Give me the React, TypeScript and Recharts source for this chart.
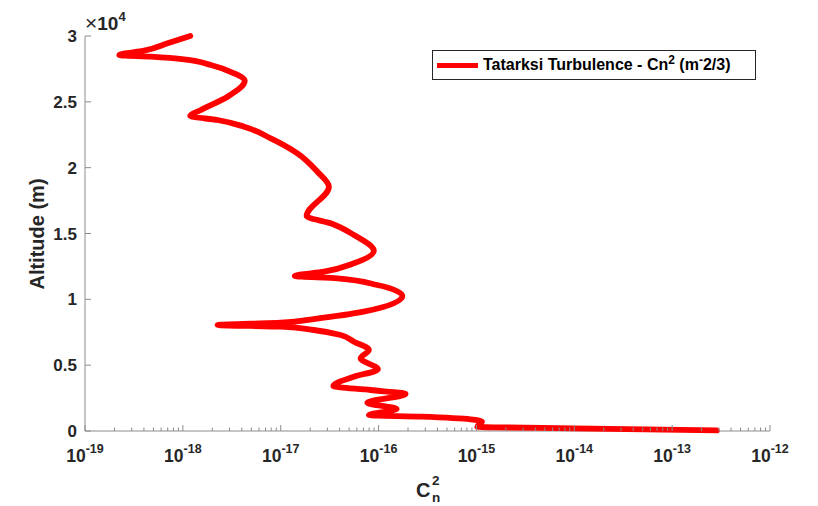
import React from "react";
import { ScatterChart, Scatter, XAxis, YAxis, Legend } from "recharts";

// Altitude (m) read from the profile, top to bottom
const altitudes = [
  30000, 29445, 28883, 28556, 28427, 28230, 27797, 27167, 26604, 25389,
  24379, 23923, 23620, 23111, 22230, 21091, 19693, 18554, 16329, 15774,
  14886, 13671, 12736, 12098, 11772, 11597, 11088, 10253, 9061, 8506,
  8225, 8050, 7921, 7671, 7291, 6782, 6152, 5521, 4686, 4124,
  3418, 3114, 2810, 2149, 1671, 1215, 1086, 889, 706, 327,
  281, 205, 50,
];

// Cn^2 values (m^-2/3) at those altitudes
const cn2Values = [
  1.19e-18, 6.98e-19, 4.03e-19, 2.24e-19, 4.71e-19, 1.03e-18, 1.93e-18, 3.34e-18, 4.29e-18, 2.86e-18,
  1.53e-18, 1.19e-18, 2.26e-18, 4.23e-18, 7.91e-18, 1.48e-17, 2.37e-17, 3.11e-17, 1.84e-17, 3.24e-17,
  5.6e-17, 8.95e-17, 5.6e-17, 2.77e-17, 1.39e-17, 3.79e-17, 9.7e-17, 1.75e-16, 7.03e-17, 2.17e-17,
  1.0e-17, 2.26e-18, 1.0e-17, 2.17e-17, 4.09e-17, 5.6e-17, 7.96e-17, 6.55e-17, 9.84e-17, 5.6e-17,
  3.45e-17, 8.28e-17, 1.89e-16, 7.67e-17, 1.53e-16, 7.96e-17, 2.69e-16, 8.69e-16, 1.14e-15, 1.02e-15,
  1.49e-15, 9.77e-15, 2.86e-13,
];

const xMajorExponents = [-19, -18, -17, -16, -15, -14, -13, -12];
const yTickValues = [0, 5000, 10000, 15000, 20000, 25000, 30000];
const yTickLabels = ["0", "0.5", "1", "1.5", "2", "2.5", "3"];

const data = altitudes.map((a, i) => ({ x: cn2Values[i], y: a }));

const xTicks: number[] = [];
xMajorExponents.forEach((e, i) => {
  xTicks.push(Math.pow(10, e));
  if (i < xMajorExponents.length - 1) {
    for (let m = 2; m <= 9; m++) xTicks.push(m * Math.pow(10, e));
  }
});

const FONT = "'Liberation Sans', Arial, Helvetica, sans-serif";
const TEXT = "#262626";
const AXIS = "#8c8c8c";

const XTick = (props: any) => {
  const { x, y, payload } = props;
  const v = payload.value;
  const lg = Math.log10(v);
  const e = Math.round(lg);
  const major = Math.abs(lg - e) < 1e-6;
  return (
    <g>
      <line x1={x} y1={y} x2={x} y2={y - (major ? 6 : 3.5)} stroke={AXIS} strokeWidth={1} />
      {major && (
        <text x={x} y={y + 31} textAnchor="middle" fontFamily={FONT} fontWeight="bold" fill={TEXT} fontSize={17.5}>
          <tspan>10</tspan>
          <tspan dy={-9} fontSize={12.5}>{String(e)}</tspan>
        </text>
      )}
    </g>
  );
};

const YTick = (props: any) => {
  const { x, y, payload } = props;
  const idx = yTickValues.indexOf(payload.value);
  return (
    <g>
      <line x1={x} y1={y} x2={x + 6} y2={y} stroke={AXIS} strokeWidth={1} />
      <text x={x - 8} y={y + 6} textAnchor="end" fontFamily={FONT} fontWeight="bold" fill={TEXT} fontSize={17}>
        {yTickLabels[idx]}
      </text>
    </g>
  );
};

const renderLegend = () => (
  <div
    style={{
      width: 322,
      height: 28,
      border: "1px solid #262626",
      background: "#fff",
      display: "flex",
      alignItems: "center",
      boxSizing: "content-box",
      fontFamily: FONT,
      fontWeight: "bold",
      fontSize: 16,
      color: "#000",
      whiteSpace: "nowrap",
    }}
  >
    <div style={{ width: 41, height: 5, background: "#ff0000", marginLeft: 4, marginRight: 5 }} />
    <span>
      Tatarksi Turbulence - Cn<sup style={{ fontSize: 12, verticalAlign: 6, lineHeight: 0 }}>2</sup> (m
      <sup style={{ fontSize: 12, verticalAlign: 6, lineHeight: 0 }}>-</sup>2/3)
    </span>
  </div>
);

export default function App() {
  return (
    <div style={{ position: "absolute", left: 0, top: 0, width: 818, height: 506, background: "#fff" }}>
      <ScatterChart width={818} height={506} margin={{ top: 36, right: 48, left: 0, bottom: 0 }}>
        <XAxis
          type="number"
          dataKey="x"
          scale="log"
          domain={[1e-19, 1e-12]}
          ticks={xTicks}
          interval={0}
          allowDataOverflow
          height={75}
          tickSize={0}
          tickMargin={0}
          tickLine={false}
          axisLine={{ stroke: AXIS, strokeWidth: 1 }}
          tick={<XTick />}
        />
        <YAxis
          type="number"
          dataKey="y"
          domain={[0, 30000]}
          ticks={yTickValues}
          interval={0}
          width={85}
          tickSize={0}
          tickMargin={0}
          tickLine={false}
          axisLine={{ stroke: AXIS, strokeWidth: 1 }}
          tick={<YTick />}
        />
        <Legend
          layout="vertical"
          align="center"
          verticalAlign="middle"
          content={renderLegend}
          wrapperStyle={{ position: "absolute", left: 432, top: 50, width: 324 }}
        />
        <Scatter
          data={data}
          line={{ stroke: "#ff0000", strokeWidth: 5.8, strokeLinejoin: "round", strokeLinecap: "round" }}
          lineJointType="monotoneY"
          shape={() => <g />}
          isAnimationActive={false}
          legendType="none"
        />
        <text x={85} y={30} fontFamily={FONT} fill={TEXT} fontSize={19}>
          <tspan fontSize={21}>×</tspan>
          <tspan fontWeight="bold">10</tspan>
          <tspan dy={-9} fontSize={13} fontWeight="bold">4</tspan>
        </text>
        <text
          x={44}
          y={234}
          transform="rotate(-90 44 234)"
          textAnchor="middle"
          fontFamily={FONT}
          fontWeight="bold"
          fontSize={20}
          fill={TEXT}
        >
          Altitude (m)
        </text>
        <text x={416} y={497} fontFamily={FONT} fontWeight="bold" fontSize={20} fill={TEXT}>C</text>
        <text x={432} y={485} fontFamily={FONT} fontWeight="bold" fontSize={13.5} fill={TEXT}>2</text>
        <text x={432} y={502} fontFamily={FONT} fontWeight="bold" fontSize={13.5} fill={TEXT}>n</text>
      </ScatterChart>
    </div>
  );
}
